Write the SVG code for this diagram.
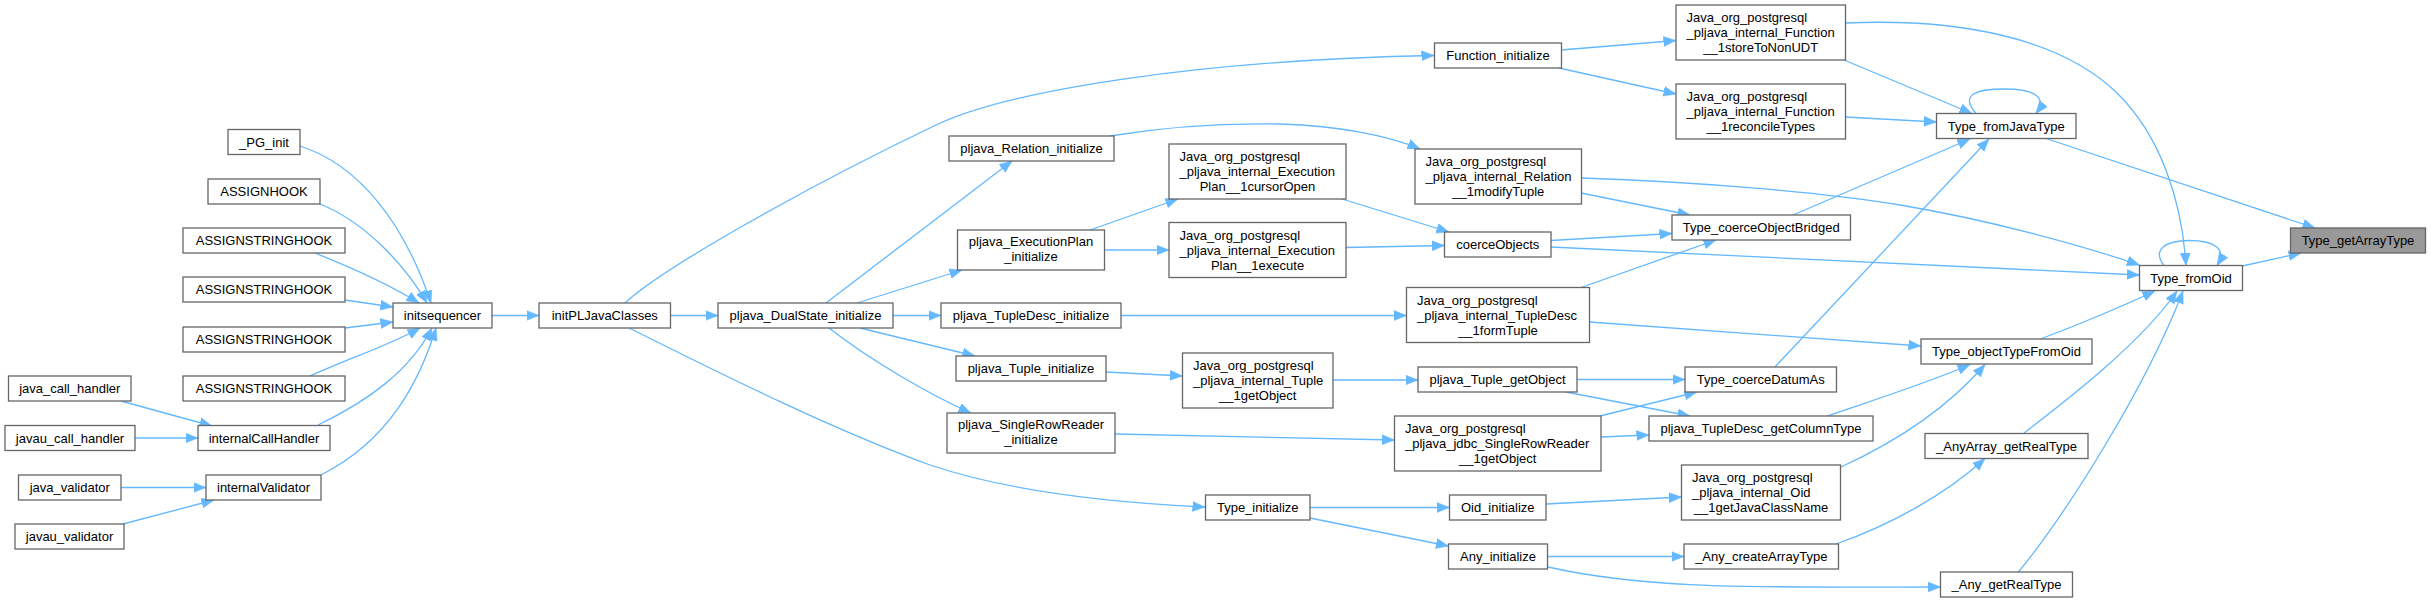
<svg xmlns="http://www.w3.org/2000/svg" width="2431" height="603" viewBox="0 0 2431 603">
<style>
.n rect{fill:#ffffff;stroke:#666666;stroke-width:1.3}
.n.hl rect{fill:#999999}
.n text{font-family:"Liberation Sans",Arial,Helvetica,sans-serif;font-size:13px;fill:#000000}
.c{text-anchor:middle}
.e path{fill:none;stroke:#63b8ff;stroke-width:1.3;marker-end:url(#ah)}
</style>
<defs>
<marker id="ah" markerUnits="userSpaceOnUse" markerWidth="13" markerHeight="11" refX="12.5" refY="5.5" orient="auto" viewBox="0 0 13 11">
<path d="M0,0.5 L12.5,5.5 L0,10.5 Z" fill="#63b8ff" stroke="#63b8ff" stroke-width="0.5"/>
</marker>
</defs>
<rect width="2431" height="603" fill="#ffffff"/>
<g id="edges" class="e">
<path d="M300,146 C360,165 405,225 431,303"/>
<path d="M320,204 C365,222 405,265 427,303"/>
<path d="M315,253 C350,267 390,285 419,303"/>
<path d="M345,300 L393,307"/>
<path d="M345,328 L393,322"/>
<path d="M310,376 C350,358 390,345 420,328"/>
<path d="M318,425 C370,400 410,370 432,328"/>
<path d="M321,475 C390,440 420,380 436,328"/>
<path d="M121,401 L212,426"/>
<path d="M135,438 L198,438"/>
<path d="M121,487.5 L206,487.5"/>
<path d="M123,524 L214,500"/>
<path d="M492,315.5 L539,315.5"/>
<path d="M670,315.5 L718,315.5"/>
<path d="M625,303 C660,270 800,190 936,125 C1010,90 1200,60 1434,55.5"/>
<path d="M629,328 C690,358 820,425 930,465 C1010,492 1120,503 1205,507"/>
<path d="M826,303 L1012,161"/>
<path d="M857,303 L962,270"/>
<path d="M893,315.5 L941,315.5"/>
<path d="M860,328 L975,356"/>
<path d="M829,328 C870,360 930,395 971,413"/>
<path d="M1110,136 C1170,126 1230,123 1280,124 C1340,126 1390,136 1420,149"/>
<path d="M1090,230 L1178,199"/>
<path d="M1104.5,250 L1169,250"/>
<path d="M1342,199 L1449,232"/>
<path d="M1346,247.5 L1444.5,245.5"/>
<path d="M1121,315.5 L1406.5,315.5"/>
<path d="M1106,372 L1182.5,376"/>
<path d="M1333,380 L1418,380"/>
<path d="M1115,434 L1394.5,440"/>
<path d="M1310,507.5 L1449.5,507.5"/>
<path d="M1310,518 L1448.5,546"/>
<path d="M1561,50 L1676,40.5"/>
<path d="M1559,68 L1676,94"/>
<path d="M1844,60 L1972,113.5"/>
<path d="M1845.5,117 L1936.5,122"/>
<path d="M1845.5,23 C1960,18 2060,38 2117,93 C2160,135 2182,200 2186,265.5"/>
<path d="M1581,193 L1690,215"/>
<path d="M1581,178 C1700,182 1820,192 1900,205 C1990,220 2080,245 2139.5,265"/>
<path d="M1551,240.5 L1672,233.5"/>
<path d="M1551,247 C1700,254 1900,263 2139.5,275"/>
<path d="M1581,287.5 L1716,240"/>
<path d="M1589.5,322 L1921,346"/>
<path d="M1577,379.5 L1685,379.5"/>
<path d="M1566,392 L1690,416"/>
<path d="M1600,416 L1697,392"/>
<path d="M1601,437 L1649,435"/>
<path d="M1546,504 L1681.5,497"/>
<path d="M1547.5,556.5 L1684,556.5"/>
<path d="M1548,567 C1650,590 1760,587 1940.5,587"/>
<path d="M1793,215 L1970,139"/>
<path d="M1775,367 L1989,139"/>
<path d="M1827,416 C1880,398 1930,382 1970,364.5"/>
<path d="M1841,467 C1900,440 1950,405 1985,364.5"/>
<path d="M1836,544 C1890,525 1945,495 1985,458.5"/>
<path d="M1976,113.5 C1960,95 1975,89 2005,89 C2035,89 2048,98 2036,113.5"/>
<path d="M2046,138.5 L2315,228"/>
<path d="M2164,265.5 C2152,250 2165,240.5 2189,240.5 C2213,240.5 2228,248 2217,265.5"/>
<path d="M2242.5,266 L2301,253"/>
<path d="M2040.5,339 C2080,324 2125,305 2155,291"/>
<path d="M2024,433 C2060,405 2140,345 2177,291"/>
<path d="M2018.5,572 C2065,515 2145,390 2183,291"/>
</g>
<g id="n_PG_init" class="n"><rect x="228" y="129.5" width="72" height="25"/><text class="c" x="264" y="146.5">_PG_init</text></g>
<g id="n_ASSIGNHOOK" class="n"><rect x="208" y="179" width="112" height="25"/><text class="c" x="264" y="196">ASSIGNHOOK</text></g>
<g id="n_ASH1" class="n"><rect x="183" y="228" width="162" height="25"/><text class="c" x="264" y="245">ASSIGNSTRINGHOOK</text></g>
<g id="n_ASH2" class="n"><rect x="183" y="277" width="162" height="25"/><text class="c" x="264" y="294">ASSIGNSTRINGHOOK</text></g>
<g id="n_ASH3" class="n"><rect x="183" y="327" width="162" height="25"/><text class="c" x="264" y="344">ASSIGNSTRINGHOOK</text></g>
<g id="n_ASH4" class="n"><rect x="183" y="376" width="162" height="25"/><text class="c" x="264" y="393">ASSIGNSTRINGHOOK</text></g>
<g id="n_java_call_handler" class="n"><rect x="8.5" y="376" width="122.5" height="25"/><text class="c" x="69.75" y="393">java_call_handler</text></g>
<g id="n_javau_call_handler" class="n"><rect x="5" y="425.5" width="130" height="25"/><text class="c" x="70" y="442.5">javau_call_handler</text></g>
<g id="n_internalCallHandler" class="n"><rect x="198" y="425.5" width="132" height="25"/><text class="c" x="264" y="442.5">internalCallHandler</text></g>
<g id="n_java_validator" class="n"><rect x="18.5" y="475" width="102.5" height="25"/><text class="c" x="69.75" y="492">java_validator</text></g>
<g id="n_internalValidator" class="n"><rect x="206" y="475" width="115" height="25"/><text class="c" x="263.5" y="492">internalValidator</text></g>
<g id="n_javau_validator" class="n"><rect x="15" y="524" width="109" height="25"/><text class="c" x="69.5" y="541">javau_validator</text></g>
<g id="n_initsequencer" class="n"><rect x="393" y="303" width="99" height="25"/><text class="c" x="442.5" y="320">initsequencer</text></g>
<g id="n_initPLJavaClasses" class="n"><rect x="539" y="303" width="131.5" height="25"/><text class="c" x="604.75" y="320">initPLJavaClasses</text></g>
<g id="n_DualState_init" class="n"><rect x="718" y="303" width="175" height="25"/><text class="c" x="805.5" y="320">pljava_DualState_initialize</text></g>
<g id="n_TupleDesc_init" class="n"><rect x="941" y="303" width="180" height="25"/><text class="c" x="1031" y="320">pljava_TupleDesc_initialize</text></g>
<g id="n_Relation_init" class="n"><rect x="949" y="136" width="165" height="25"/><text class="c" x="1031.5" y="153">pljava_Relation_initialize</text></g>
<g id="n_ExecPlan_init" class="n"><rect x="957.5" y="230" width="147" height="40"/><text class="c" x="1031" y="246">pljava_ExecutionPlan</text><text class="c" x="1031" y="261">_initialize</text></g>
<g id="n_Tuple_init" class="n"><rect x="956" y="356" width="150" height="25"/><text class="c" x="1031" y="373">pljava_Tuple_initialize</text></g>
<g id="n_SRR_init" class="n"><rect x="947" y="413" width="168" height="40"/><text class="c" x="1031" y="429">pljava_SingleRowReader</text><text class="c" x="1031" y="444">_initialize</text></g>
<g id="n_Type_initialize" class="n"><rect x="1205.5" y="495" width="104.5" height="25"/><text class="c" x="1257.75" y="512">Type_initialize</text></g>
<g id="n_cursorOpen" class="n"><rect x="1169" y="144" width="177" height="55"/><text x="1179.5" y="161">Java_org_postgresql</text><text x="1179.5" y="176">_pljava_internal_Execution</text><text class="c" x="1257.5" y="191">Plan__1cursorOpen</text></g>
<g id="n_execute" class="n"><rect x="1169" y="222.5" width="177" height="55"/><text x="1179.5" y="239.5">Java_org_postgresql</text><text x="1179.5" y="254.5">_pljava_internal_Execution</text><text class="c" x="1257.5" y="269.5">Plan__1execute</text></g>
<g id="n_Tuple_1getObject" class="n"><rect x="1182.5" y="353" width="150.5" height="55"/><text x="1193" y="370">Java_org_postgresql</text><text x="1193" y="385">_pljava_internal_Tuple</text><text class="c" x="1257.75" y="400">__1getObject</text></g>
<g id="n_Function_initialize" class="n"><rect x="1434.5" y="43" width="127" height="25"/><text class="c" x="1498" y="60">Function_initialize</text></g>
<g id="n_storeToNonUDT" class="n"><rect x="1676" y="5" width="169.5" height="55"/><text x="1686.5" y="22">Java_org_postgresql</text><text x="1686.5" y="37">_pljava_internal_Function</text><text class="c" x="1760.75" y="52">__1storeToNonUDT</text></g>
<g id="n_reconcileTypes" class="n"><rect x="1676" y="84" width="169.5" height="55"/><text x="1686.5" y="101">Java_org_postgresql</text><text x="1686.5" y="116">_pljava_internal_Function</text><text class="c" x="1760.75" y="131">__1reconcileTypes</text></g>
<g id="n_modifyTuple" class="n"><rect x="1415" y="149" width="166.5" height="55"/><text x="1425.5" y="166">Java_org_postgresql</text><text x="1425.5" y="181">_pljava_internal_Relation</text><text class="c" x="1498.25" y="196">__1modifyTuple</text></g>
<g id="n_coerceObjects" class="n"><rect x="1444.5" y="232" width="106.5" height="25"/><text class="c" x="1497.75" y="249">coerceObjects</text></g>
<g id="n_formTuple" class="n"><rect x="1406.5" y="287.5" width="183" height="55"/><text x="1417" y="304.5">Java_org_postgresql</text><text x="1417" y="319.5">_pljava_internal_TupleDesc</text><text class="c" x="1498" y="334.5">__1formTuple</text></g>
<g id="n_Tuple_getObject" class="n"><rect x="1418" y="367" width="159" height="25"/><text class="c" x="1497.5" y="384">pljava_Tuple_getObject</text></g>
<g id="n_SRR_1getObject" class="n"><rect x="1394.5" y="416" width="206.5" height="55"/><text x="1405" y="433">Java_org_postgresql</text><text x="1405" y="448">_pljava_jdbc_SingleRowReader</text><text class="c" x="1497.75" y="463">__1getObject</text></g>
<g id="n_Oid_initialize" class="n"><rect x="1449.5" y="495" width="96.5" height="25"/><text class="c" x="1497.75" y="512">Oid_initialize</text></g>
<g id="n_Any_initialize" class="n"><rect x="1448.5" y="544" width="99" height="25"/><text class="c" x="1498" y="561">Any_initialize</text></g>
<g id="n_coerceObjectBridged" class="n"><rect x="1672" y="215" width="178.5" height="25"/><text class="c" x="1761.25" y="232">Type_coerceObjectBridged</text></g>
<g id="n_coerceDatumAs" class="n"><rect x="1685" y="367" width="151.5" height="25"/><text class="c" x="1760.75" y="384">Type_coerceDatumAs</text></g>
<g id="n_getColumnType" class="n"><rect x="1649" y="416" width="224" height="25"/><text class="c" x="1761" y="433">pljava_TupleDesc_getColumnType</text></g>
<g id="n_getJavaClassName" class="n"><rect x="1681.5" y="465" width="159" height="55"/><text x="1692" y="482">Java_org_postgresql</text><text x="1692" y="497">_pljava_internal_Oid</text><text class="c" x="1761" y="512">__1getJavaClassName</text></g>
<g id="n_Any_createArrayType" class="n"><rect x="1684" y="544" width="154.5" height="25"/><text class="c" x="1761.25" y="561">_Any_createArrayType</text></g>
<g id="n_Type_fromJavaType" class="n"><rect x="1936.5" y="113.5" width="139.5" height="25"/><text class="c" x="2006.25" y="130.5">Type_fromJavaType</text></g>
<g id="n_Type_objectTypeFromOid" class="n"><rect x="1921" y="339" width="171" height="25"/><text class="c" x="2006.5" y="356">Type_objectTypeFromOid</text></g>
<g id="n_AnyArray_getRealType" class="n"><rect x="1925" y="433.5" width="163" height="25"/><text class="c" x="2006.5" y="450.5">_AnyArray_getRealType</text></g>
<g id="n_Any_getRealType" class="n"><rect x="1940.5" y="572" width="132" height="25"/><text class="c" x="2006.5" y="589">_Any_getRealType</text></g>
<g id="n_Type_fromOid" class="n"><rect x="2139.5" y="265.5" width="103" height="25"/><text class="c" x="2191" y="282.5">Type_fromOid</text></g>
<g id="n_Type_getArrayType" class="n hl"><rect x="2290.5" y="228" width="135" height="25"/><text class="c" x="2358" y="245">Type_getArrayType</text></g>
</svg>
